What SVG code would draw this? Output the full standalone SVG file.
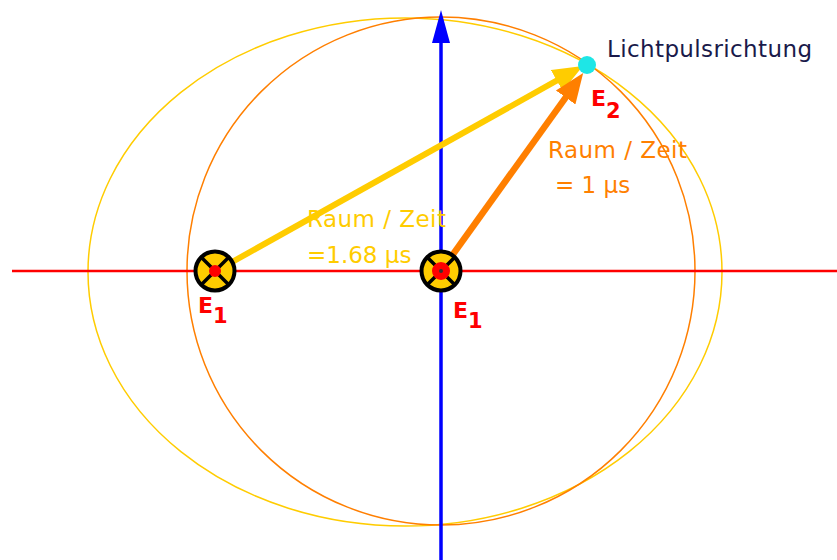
<svg xmlns="http://www.w3.org/2000/svg" xmlns:xlink="http://www.w3.org/1999/xlink" width="837" height="560" viewBox="0 0 837 560">
<style>
.curve{fill:none;stroke-width:1.5}
.lbl{font-family:"DejaVu Sans","Verdana",sans-serif;font-size:23px}
.ev{font-family:"DejaVu Sans","Verdana",sans-serif;font-size:22px;font-weight:bold;fill:#FF0000}
</style>
<defs>
<marker id="hy" markerUnits="userSpaceOnUse" markerWidth="34" markerHeight="26" refX="10" refY="12" orient="auto" viewBox="0 0 34 24">
<path d="M0,0 L30,12 L0,24 z" fill="#FFCC00"/>
</marker>
<marker id="ho" markerUnits="userSpaceOnUse" markerWidth="34" markerHeight="26" refX="10" refY="12" orient="auto" viewBox="0 0 34 24">
<path d="M0,0 L30,12 L0,24 z" fill="#FF7F00"/>
</marker>
<g id="sym">
<circle r="19.5" fill="#FFCC00" stroke="#000" stroke-width="4"/>
<path d="M-13.5,-13.5 L13.5,13.5 M13.5,-13.5 L-13.5,13.5" stroke="#000" stroke-width="3.5"/>
</g>
</defs>
<rect width="837" height="560" fill="#fff"/>
<g id="curves">
<ellipse class="curve" cx="405" cy="272" rx="317" ry="254" stroke="#FFCC00"/>
<circle class="curve" cx="441" cy="271" r="254" stroke="#FF7F00"/>
</g>
<g id="axes">
<line x1="12" y1="271" x2="837" y2="271" stroke="#FF0000" stroke-width="2.5"/>
<line x1="441" y1="560" x2="441" y2="38" stroke="#0000FF" stroke-width="3.5"/>
<polygon points="441,10 450,43 432,43" fill="#0000FF"/>
</g>
<g id="connectors">
<line x1="216" y1="271" x2="565.5" y2="75.7" stroke="#FFCC00" stroke-width="6" marker-end="url(#hy)"/>
<line x1="441" y1="271" x2="571.5" y2="89.3" stroke="#FF7F00" stroke-width="6.5" marker-end="url(#ho)"/>
</g>
<g id="E1-left">
<use xlink:href="#sym" x="215" y="271"/>
<circle cx="215" cy="271" r="6" fill="#FF0000"/>
<text class="ev" x="198" y="313">E<tspan font-size="21" dy="10">1</tspan></text>
</g>
<g id="E1-center">
<use xlink:href="#sym" x="441" y="271"/>
<circle cx="441" cy="271" r="9" fill="#FF0000"/>
<circle cx="441" cy="271" r="2" fill="#333"/>
<text class="ev" x="453" y="318">E<tspan font-size="21" dy="10">1</tspan></text>
</g>
<g id="E2">
<circle cx="587" cy="65" r="9" fill="#1EE6E6"/>
<text class="ev" x="591" y="106">E<tspan font-size="21" dy="12">2</tspan></text>
</g>
<g id="labels">
<text class="lbl" x="607" y="57" fill="#1A1A4A" textLength="205">Lichtpulsrichtung</text>
<text class="lbl" x="548" y="158" fill="#FF8000" textLength="139">Raum / Zeit</text>
<text class="lbl" x="555" y="193" fill="#FF8000">= 1 μs</text>
<text class="lbl" x="307" y="227" fill="#FFCC00" textLength="139">Raum / Zeit</text>
<text class="lbl" x="307" y="263" fill="#FFCC00">=1.68 μs</text>
</g>
</svg>
